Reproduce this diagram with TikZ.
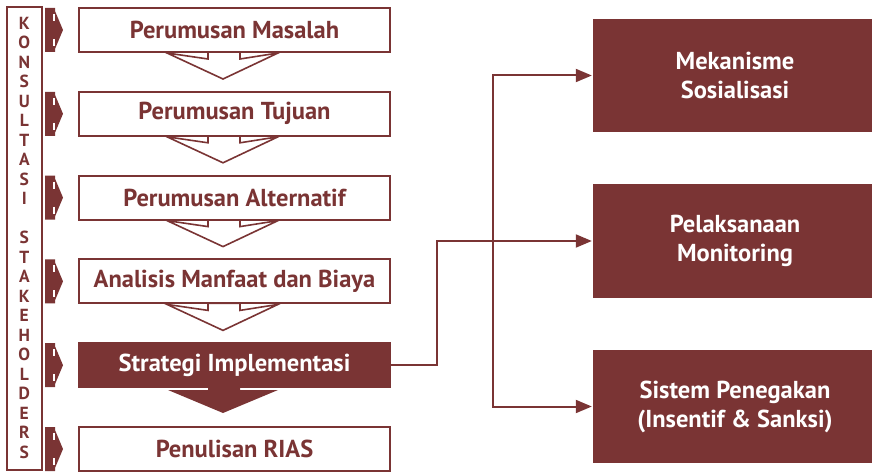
\documentclass[tikz,border=0pt]{standalone}
\usepackage{fontspec}
\setmainfont{PT Sans}
\usetikzlibrary{arrows.meta,calc}
\definecolor{marun}{RGB}{122,52,52}

\begin{document}
\begin{tikzpicture}[
  x=1pt, y=-1pt,
  font=\fontsize{24.5}{28}\selectfont\bfseries,
  stepbox/.style={rectangle,draw=marun,line width=2pt,fill=white,text=marun,
    minimum width=311pt,minimum height=44pt,inner sep=0pt},
  keybox/.style={stepbox,fill=marun,text=white},
  outbox/.style={rectangle,fill=marun,text=white,align=center,
    font=\fontsize{24.5}{29}\selectfont\bfseries,minimum width=284pt,inner sep=0pt},
  sidebox/.style={rectangle,draw=marun,line width=2pt,minimum width=35pt,minimum height=462pt},
  letter/.style={anchor=base,text=marun,inner sep=0pt,font=\fontsize{17.5}{17.5}\selectfont\bfseries},
  tabmark/.style={fill=marun},
  hollowarrow/.style={draw=marun,line width=1.6pt,fill=white,line join=miter},
  bigarrow/.style={fill=marun},
  link/.style={draw=marun,line width=2pt,-{Triangle[length=16pt,width=13pt]},shorten >=1pt}
]
\useasboundingbox (0,0) rectangle (872,473);

% chevrons go first so the boxes sit on top of them
\foreach \a/\y in {p1/52,p2/135.8,p3/219.6,p4/303.4}
  \draw[hollowarrow] (208,\y) -- ++(0,7) -- ++(-41,-6) -- ++(56,26)
    -- ++(55,-26) -- ++(-38,6) -- ++(0,-7) -- cycle;
\fill[bigarrow] (208,386) -- ++(0,4) -- ++(-40,0) -- ++(55,23)
  -- ++(55,-23) -- ++(-38,0) -- ++(0,-4) -- cycle;

\node[sidebox] (konsul) at (24.3,238.5) {};
\foreach \ch [count=\i] in {K,O,N,S,U,L,T,A,S,I,,S,T,A,K,E,H,O,L,D,E,R,S}
  \node[letter] (ks\i) at (24.3,{29.3+(\i-1)*19.49}) {\ch};

\node[stepbox] (p1) at (234.5,30) {Perumusan Masalah};
\node[stepbox] (p2) at (234.5,113.8) {Perumusan Tujuan};
\node[stepbox] (p3) at (234.5,197.6) {Perumusan Alternatif};
\node[stepbox] (p4) at (234.5,281.4) {Analisis Manfaat dan Biaya};
\node[keybox] (p5) at (234.5,365.2) {Strategi Implementasi};
\node[stepbox] (p6) at (234.5,449) {Penulisan RIAS};

% small tabs between the side bar and each step
\foreach \a in {p1,p2,p3,p4,p5,p6} {
  \fill[tabmark] ([xshift=-33pt,yshift=22pt]\a.west) -- ++(10,0) -- ++(0,3)
    -- ++(8,19) -- ++(-8,19) -- ++(0,3) -- ++(-10,0) -- cycle;
  \draw[white,line width=1.3pt] ([xshift=-24pt,yshift=16pt]\a.west) -- ++(0,7)
    ([xshift=-24pt,yshift=-9pt]\a.west) -- ++(0,7);
}

\node[outbox,minimum height=113pt] (mek) at (735,75.5) {Mekanisme\\Sosialisasi};
\node[outbox,minimum height=114pt] (pel) at (735,241) {Pelaksanaan\\Monitoring};
\node[outbox,minimum height=113pt] (sis) at (735,406.5) {Sistem Penegakan\\(Insentif \& Sanksi)};

\draw[link] (p5.east) -- ++(46,0) |- (pel.west);
\coordinate (split) at (493,241);
\draw[link] (split) |- (mek.west);
\draw[link] (split) |- (sis.west);
\end{tikzpicture}
\end{document}
